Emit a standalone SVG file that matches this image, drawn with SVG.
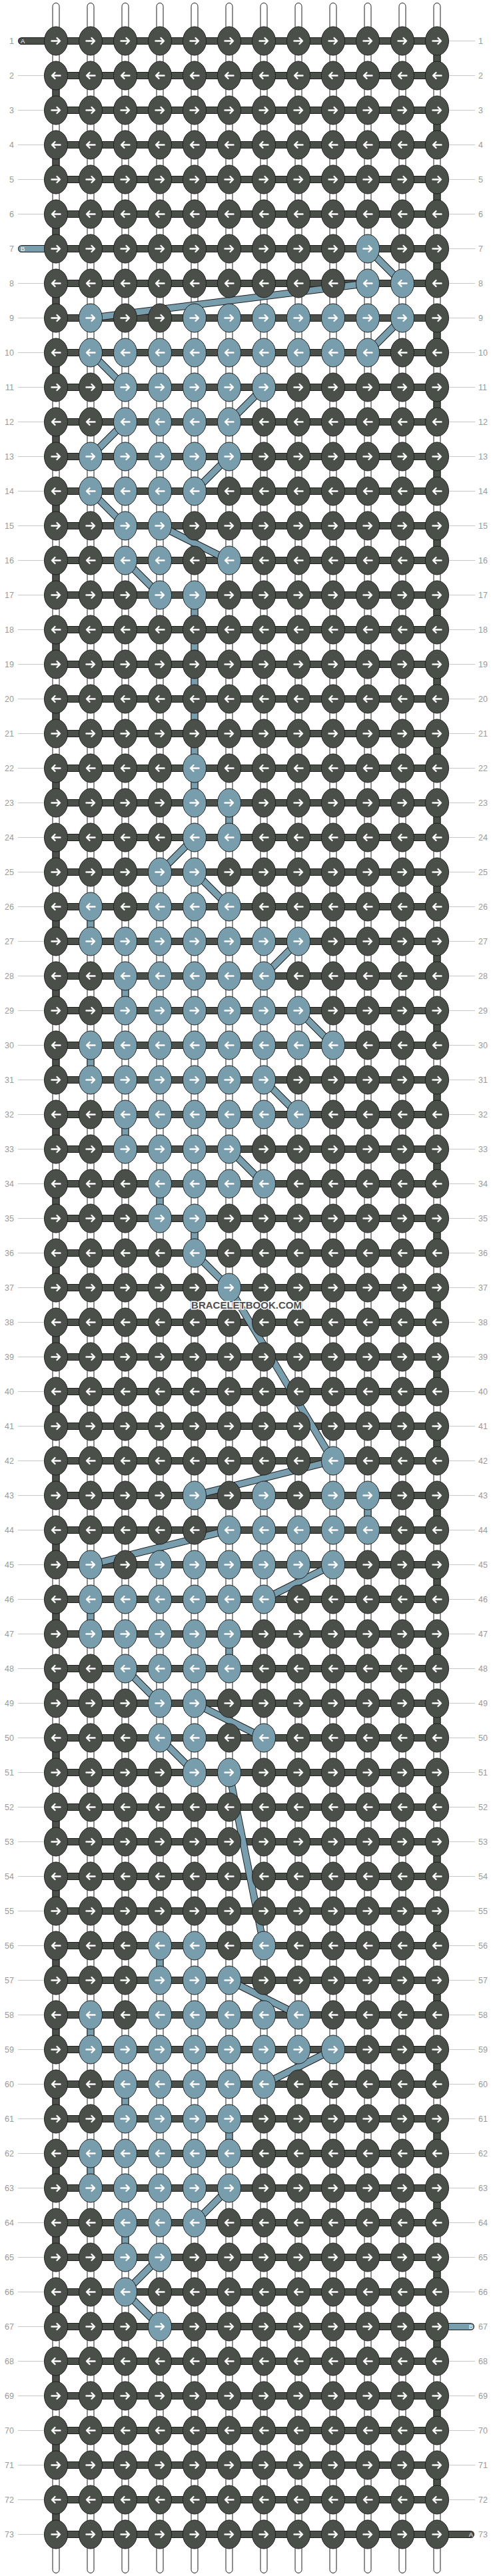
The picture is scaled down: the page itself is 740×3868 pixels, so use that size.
<svg xmlns="http://www.w3.org/2000/svg" width="740" height="3868" viewBox="0 0 740 3868">
<style>
.d{fill:#4b4f4a}.b{fill:#789eae}
.nl,.nr{font-family:"Liberation Sans",Arial,sans-serif;font-size:12.5px;fill:#9a9a9a}
.nl{text-anchor:end}
.tg{font-family:"Liberation Sans",Arial,sans-serif;font-size:9.5px;fill:#ffffff}
.wm{font-family:"Liberation Sans",Arial,sans-serif;font-weight:bold;font-size:15px;fill:#4e4e4e;stroke:#ffffff;stroke-width:3;paint-order:stroke;text-anchor:middle}
</style>
<defs>
<g id="R"><ellipse rx="17.5" ry="21.5" stroke="#1e1e1e" stroke-width="1"/><path d="M-6.5 0H5.5M1.5-4.5 6 0 1.5 4.5" fill="none" stroke="#ffffff" stroke-width="2.4" stroke-linecap="round" stroke-linejoin="round"/></g>
<g id="L"><ellipse rx="17.5" ry="21.5" stroke="#1e1e1e" stroke-width="1"/><path d="M6.5 0H-5.5M-1.5-4.5-6 0-1.5 4.5" fill="none" stroke="#ffffff" stroke-width="2.4" stroke-linecap="round" stroke-linejoin="round"/></g>
<path id="gL" d="M27 0H66.5" stroke="#c8c8c8" stroke-width="1"/>
<path id="gR" d="M673.5 0H713" stroke="#c8c8c8" stroke-width="1"/>
<path id="abars" fill="none" stroke-linecap="round" stroke-linejoin="round" d="M32.5 61.5H84M84 61.5h572
m-572 52h572m-572 52h572m-572 52h572m-572 52h572m-572 52h572m-572 52h572m-572 52h572m-572 52h572m-572 52h572
m-572 52h572m-572 52h572m-572 52h572m-572 52h572m-572 52h572m-572 52h572m-572 52h572m-572 52h572m-572 52h572
m-572 52h572m-572 52h572m-572 52h572m-572 52h572m-572 52h572m-572 52h572m-572 52h572m-572 52h572m-572 52h572
m-572 52h572m-572 52h572m-572 52h572m-572 52h572m-572 52h572m-572 52h572m-572 52h572m-572 52h572m-572 52h572
m-572 52h572m-572 52h572m-572 52h572m-572 52h572m-572 52h572m-572 52h572m-572 52h572m-572 52h572m-572 52h572
m-572 52h572m-572 52h572m-572 52h572m-572 52h572m-572 52h572m-572 52h572m-572 52h572m-572 52h572m-572 52h572
m-572 52h572m-572 52h572m-572 52h572m-572 52h572m-572 52h572m-572 52h572m-572 52h572m-572 52h572m-572 52h572
m-572 52h572m-572 52h572m-572 52h572m-572 52h572m-572 52h572m-572 52h572m-572 52h572m-572 52h572m-572 52h572
M656 3805.5H706.5M656 61.5v52
m-572 0v52m572 0v52m-572 0v52m572 0v52m-572 0v52m572 0v52m-572 0v52m572 0v52m-572 0v52m572 0v52
m-572 0v52m572 0v52m-572 0v52m572 0v52m-572 0v52m572 0v52m-572 0v52m572 0v52m-572 0v52m572 0v52
m-572 0v52m572 0v52m-572 0v52m572 0v52m-572 0v52m572 0v52m-572 0v52m572 0v52m-572 0v52m572 0v52
m-572 0v52m572 0v52m-572 0v52m572 0v52m-572 0v52m572 0v52m-572 0v52m572 0v52m-572 0v52m572 0v52
m-572 0v52m572 0v52m-572 0v52m572 0v52m-572 0v52m572 0v52m-572 0v52m572 0v52m-572 0v52m572 0v52
m-572 0v52m572 0v52m-572 0v52m572 0v52m-572 0v52m572 0v52m-572 0v52m572 0v52m-572 0v52m572 0v52
m-572 0v52m572 0v52m-572 0v52m572 0v52m-572 0v52m572 0v52m-572 0v52m572 0v52m-572 0v52m572 0v52
m-572 0v52"/>
<path id="bpath" fill="none" stroke-linecap="round" stroke-linejoin="round" d="M32.5 373.5H84M656 3493.5H706.5M552 373.5L604 425.5M552 425.5L136 477.5M604 477.5L552 529.5M136 529.5L188 581.5M396 581.5L344 633.5M188 633.5L136 685.5M344 685.5L292 737.5M136 737.5L188 789.5M240 789.5L344 841.5M188 841.5L240 893.5M292 893.5V1205.5M344 1205.5V1257.5M292 1257.5L240 1309.5M292 1309.5L344 1361.5M136 1361.5V1413.5M448 1413.5L396 1465.5M188 1465.5V1517.5M448 1517.5L500 1569.5M136 1569.5V1621.5M396 1621.5L448 1673.5M188 1673.5V1725.5M344 1725.5L396 1777.5M240 1777.5V1829.5M292 1829.5V1881.5L344 1933.5L500 2193.5L292 2245.5M552 2245.5V2297.5M344 2297.5L136 2349.5M500 2349.5L396 2401.5M136 2401.5V2453.5M344 2453.5V2505.5M188 2505.5L240 2557.5M292 2557.5L396 2609.5M240 2609.5L292 2661.5M344 2661.5L396 2921.5M240 2921.5V2973.5M344 2973.5L448 3025.5M136 3025.5V3077.5M500 3077.5L396 3129.5M188 3129.5V3181.5M344 3181.5V3233.5M136 3233.5V3285.5M344 3285.5L292 3337.5M188 3337.5V3389.5M240 3389.5L188 3441.5L240 3493.5"/>
</defs>
<rect width="740" height="3868" fill="#ffffff"/>
<g id="strands" fill="#ffffff" stroke="#1e1e1e" stroke-width="1">
<rect x="79" y="4.5" width="10" height="3859" rx="5"/><rect x="131" y="4.5" width="10" height="3859" rx="5"/><rect x="183" y="4.5" width="10" height="3859" rx="5"/><rect x="235" y="4.5" width="10" height="3859" rx="5"/><rect x="287" y="4.5" width="10" height="3859" rx="5"/><rect x="339" y="4.5" width="10" height="3859" rx="5"/><rect x="391" y="4.5" width="10" height="3859" rx="5"/><rect x="443" y="4.5" width="10" height="3859" rx="5"/><rect x="495" y="4.5" width="10" height="3859" rx="5"/><rect x="547" y="4.5" width="10" height="3859" rx="5"/><rect x="599" y="4.5" width="10" height="3859" rx="5"/><rect x="651" y="4.5" width="10" height="3859" rx="5"/>
</g>
<g id="connectors">
<use href="#abars" stroke="#1e1e1e" stroke-width="11"/>
<use href="#abars" stroke="#4b4f4a" stroke-width="9"/>
<use href="#bpath" stroke="#1e1e1e" stroke-width="11"/>
<use href="#bpath" stroke="#789eae" stroke-width="9"/>
</g>
<g id="knots">
<g id="row1" transform="translate(0,61.5)"><text class="nl" x="21" y="4.5">1</text><text class="nr" x="718" y="4.5">1</text><use href="#gR"/><text class="tg" x="31" y="3.5">A</text><g id="k1_1" class="d"><use href="#R" x="84"/></g><g id="k1_2" class="d"><use href="#R" x="136"/></g><g id="k1_3" class="d"><use href="#R" x="188"/></g><g id="k1_4" class="d"><use href="#R" x="240"/></g><g id="k1_5" class="d"><use href="#R" x="292"/></g><g id="k1_6" class="d"><use href="#R" x="344"/></g><g id="k1_7" class="d"><use href="#R" x="396"/></g><g id="k1_8" class="d"><use href="#R" x="448"/></g><g id="k1_9" class="d"><use href="#R" x="500"/></g><g id="k1_10" class="d"><use href="#R" x="552"/></g><g id="k1_11" class="d"><use href="#R" x="604"/></g><g id="k1_12" class="d"><use href="#R" x="656"/></g></g>
<g id="row2" transform="translate(0,113.5)"><text class="nl" x="21" y="4.5">2</text><text class="nr" x="718" y="4.5">2</text><use href="#gL"/><use href="#gR"/><g id="k2_1" class="d"><use href="#L" x="84"/></g><g id="k2_2" class="d"><use href="#L" x="136"/></g><g id="k2_3" class="d"><use href="#L" x="188"/></g><g id="k2_4" class="d"><use href="#L" x="240"/></g><g id="k2_5" class="d"><use href="#L" x="292"/></g><g id="k2_6" class="d"><use href="#L" x="344"/></g><g id="k2_7" class="d"><use href="#L" x="396"/></g><g id="k2_8" class="d"><use href="#L" x="448"/></g><g id="k2_9" class="d"><use href="#L" x="500"/></g><g id="k2_10" class="d"><use href="#L" x="552"/></g><g id="k2_11" class="d"><use href="#L" x="604"/></g><g id="k2_12" class="d"><use href="#L" x="656"/></g></g>
<g id="row3" transform="translate(0,165.5)"><text class="nl" x="21" y="4.5">3</text><text class="nr" x="718" y="4.5">3</text><use href="#gL"/><use href="#gR"/><g id="k3_1" class="d"><use href="#R" x="84"/></g><g id="k3_2" class="d"><use href="#R" x="136"/></g><g id="k3_3" class="d"><use href="#R" x="188"/></g><g id="k3_4" class="d"><use href="#R" x="240"/></g><g id="k3_5" class="d"><use href="#R" x="292"/></g><g id="k3_6" class="d"><use href="#R" x="344"/></g><g id="k3_7" class="d"><use href="#R" x="396"/></g><g id="k3_8" class="d"><use href="#R" x="448"/></g><g id="k3_9" class="d"><use href="#R" x="500"/></g><g id="k3_10" class="d"><use href="#R" x="552"/></g><g id="k3_11" class="d"><use href="#R" x="604"/></g><g id="k3_12" class="d"><use href="#R" x="656"/></g></g>
<g id="row4" transform="translate(0,217.5)"><text class="nl" x="21" y="4.5">4</text><text class="nr" x="718" y="4.5">4</text><use href="#gL"/><use href="#gR"/><g id="k4_1" class="d"><use href="#L" x="84"/></g><g id="k4_2" class="d"><use href="#L" x="136"/></g><g id="k4_3" class="d"><use href="#L" x="188"/></g><g id="k4_4" class="d"><use href="#L" x="240"/></g><g id="k4_5" class="d"><use href="#L" x="292"/></g><g id="k4_6" class="d"><use href="#L" x="344"/></g><g id="k4_7" class="d"><use href="#L" x="396"/></g><g id="k4_8" class="d"><use href="#L" x="448"/></g><g id="k4_9" class="d"><use href="#L" x="500"/></g><g id="k4_10" class="d"><use href="#L" x="552"/></g><g id="k4_11" class="d"><use href="#L" x="604"/></g><g id="k4_12" class="d"><use href="#L" x="656"/></g></g>
<g id="row5" transform="translate(0,269.5)"><text class="nl" x="21" y="4.5">5</text><text class="nr" x="718" y="4.5">5</text><use href="#gL"/><use href="#gR"/><g id="k5_1" class="d"><use href="#R" x="84"/></g><g id="k5_2" class="d"><use href="#R" x="136"/></g><g id="k5_3" class="d"><use href="#R" x="188"/></g><g id="k5_4" class="d"><use href="#R" x="240"/></g><g id="k5_5" class="d"><use href="#R" x="292"/></g><g id="k5_6" class="d"><use href="#R" x="344"/></g><g id="k5_7" class="d"><use href="#R" x="396"/></g><g id="k5_8" class="d"><use href="#R" x="448"/></g><g id="k5_9" class="d"><use href="#R" x="500"/></g><g id="k5_10" class="d"><use href="#R" x="552"/></g><g id="k5_11" class="d"><use href="#R" x="604"/></g><g id="k5_12" class="d"><use href="#R" x="656"/></g></g>
<g id="row6" transform="translate(0,321.5)"><text class="nl" x="21" y="4.5">6</text><text class="nr" x="718" y="4.5">6</text><use href="#gL"/><use href="#gR"/><g id="k6_1" class="d"><use href="#L" x="84"/></g><g id="k6_2" class="d"><use href="#L" x="136"/></g><g id="k6_3" class="d"><use href="#L" x="188"/></g><g id="k6_4" class="d"><use href="#L" x="240"/></g><g id="k6_5" class="d"><use href="#L" x="292"/></g><g id="k6_6" class="d"><use href="#L" x="344"/></g><g id="k6_7" class="d"><use href="#L" x="396"/></g><g id="k6_8" class="d"><use href="#L" x="448"/></g><g id="k6_9" class="d"><use href="#L" x="500"/></g><g id="k6_10" class="d"><use href="#L" x="552"/></g><g id="k6_11" class="d"><use href="#L" x="604"/></g><g id="k6_12" class="d"><use href="#L" x="656"/></g></g>
<g id="row7" transform="translate(0,373.5)"><text class="nl" x="21" y="4.5">7</text><text class="nr" x="718" y="4.5">7</text><use href="#gR"/><text class="tg" x="31" y="3.5">B</text><g id="k7_1" class="d"><use href="#R" x="84"/></g><g id="k7_2" class="d"><use href="#R" x="136"/></g><g id="k7_3" class="d"><use href="#R" x="188"/></g><g id="k7_4" class="d"><use href="#R" x="240"/></g><g id="k7_5" class="d"><use href="#R" x="292"/></g><g id="k7_6" class="d"><use href="#R" x="344"/></g><g id="k7_7" class="d"><use href="#R" x="396"/></g><g id="k7_8" class="d"><use href="#R" x="448"/></g><g id="k7_9" class="d"><use href="#R" x="500"/></g><g id="k7_10" class="b"><use href="#R" x="552"/></g><g id="k7_11" class="d"><use href="#R" x="604"/></g><g id="k7_12" class="d"><use href="#R" x="656"/></g></g>
<g id="row8" transform="translate(0,425.5)"><text class="nl" x="21" y="4.5">8</text><text class="nr" x="718" y="4.5">8</text><use href="#gL"/><use href="#gR"/><g id="k8_1" class="d"><use href="#L" x="84"/></g><g id="k8_2" class="d"><use href="#L" x="136"/></g><g id="k8_3" class="d"><use href="#L" x="188"/></g><g id="k8_4" class="d"><use href="#L" x="240"/></g><g id="k8_5" class="d"><use href="#L" x="292"/></g><g id="k8_6" class="d"><use href="#L" x="344"/></g><g id="k8_7" class="d"><use href="#L" x="396"/></g><g id="k8_8" class="d"><use href="#L" x="448"/></g><g id="k8_9" class="d"><use href="#L" x="500"/></g><g id="k8_10" class="b"><use href="#L" x="552"/></g><g id="k8_11" class="b"><use href="#L" x="604"/></g><g id="k8_12" class="d"><use href="#L" x="656"/></g></g>
<g id="row9" transform="translate(0,477.5)"><text class="nl" x="21" y="4.5">9</text><text class="nr" x="718" y="4.5">9</text><use href="#gL"/><use href="#gR"/><g id="k9_1" class="d"><use href="#R" x="84"/></g><g id="k9_2" class="b"><use href="#R" x="136"/></g><g id="k9_3" class="d"><use href="#R" x="188"/></g><g id="k9_4" class="d"><use href="#R" x="240"/></g><g id="k9_5" class="b"><use href="#R" x="292"/></g><g id="k9_6" class="b"><use href="#R" x="344"/></g><g id="k9_7" class="b"><use href="#R" x="396"/></g><g id="k9_8" class="b"><use href="#R" x="448"/></g><g id="k9_9" class="b"><use href="#R" x="500"/></g><g id="k9_10" class="b"><use href="#R" x="552"/></g><g id="k9_11" class="b"><use href="#R" x="604"/></g><g id="k9_12" class="d"><use href="#R" x="656"/></g></g>
<g id="row10" transform="translate(0,529.5)"><text class="nl" x="21" y="4.5">10</text><text class="nr" x="718" y="4.5">10</text><use href="#gL"/><use href="#gR"/><g id="k10_1" class="d"><use href="#L" x="84"/></g><g id="k10_2" class="b"><use href="#L" x="136"/></g><g id="k10_3" class="b"><use href="#L" x="188"/></g><g id="k10_4" class="b"><use href="#L" x="240"/></g><g id="k10_5" class="b"><use href="#L" x="292"/></g><g id="k10_6" class="b"><use href="#L" x="344"/></g><g id="k10_7" class="b"><use href="#L" x="396"/></g><g id="k10_8" class="b"><use href="#L" x="448"/></g><g id="k10_9" class="b"><use href="#L" x="500"/></g><g id="k10_10" class="b"><use href="#L" x="552"/></g><g id="k10_11" class="d"><use href="#L" x="604"/></g><g id="k10_12" class="d"><use href="#L" x="656"/></g></g>
<g id="row11" transform="translate(0,581.5)"><text class="nl" x="21" y="4.5">11</text><text class="nr" x="718" y="4.5">11</text><use href="#gL"/><use href="#gR"/><g id="k11_1" class="d"><use href="#R" x="84"/></g><g id="k11_2" class="d"><use href="#R" x="136"/></g><g id="k11_3" class="b"><use href="#R" x="188"/></g><g id="k11_4" class="b"><use href="#R" x="240"/></g><g id="k11_5" class="b"><use href="#R" x="292"/></g><g id="k11_6" class="b"><use href="#R" x="344"/></g><g id="k11_7" class="b"><use href="#R" x="396"/></g><g id="k11_8" class="d"><use href="#R" x="448"/></g><g id="k11_9" class="d"><use href="#R" x="500"/></g><g id="k11_10" class="d"><use href="#R" x="552"/></g><g id="k11_11" class="d"><use href="#R" x="604"/></g><g id="k11_12" class="d"><use href="#R" x="656"/></g></g>
<g id="row12" transform="translate(0,633.5)"><text class="nl" x="21" y="4.5">12</text><text class="nr" x="718" y="4.5">12</text><use href="#gL"/><use href="#gR"/><g id="k12_1" class="d"><use href="#L" x="84"/></g><g id="k12_2" class="d"><use href="#L" x="136"/></g><g id="k12_3" class="b"><use href="#L" x="188"/></g><g id="k12_4" class="b"><use href="#L" x="240"/></g><g id="k12_5" class="b"><use href="#L" x="292"/></g><g id="k12_6" class="b"><use href="#L" x="344"/></g><g id="k12_7" class="d"><use href="#L" x="396"/></g><g id="k12_8" class="d"><use href="#L" x="448"/></g><g id="k12_9" class="d"><use href="#L" x="500"/></g><g id="k12_10" class="d"><use href="#L" x="552"/></g><g id="k12_11" class="d"><use href="#L" x="604"/></g><g id="k12_12" class="d"><use href="#L" x="656"/></g></g>
<g id="row13" transform="translate(0,685.5)"><text class="nl" x="21" y="4.5">13</text><text class="nr" x="718" y="4.5">13</text><use href="#gL"/><use href="#gR"/><g id="k13_1" class="d"><use href="#R" x="84"/></g><g id="k13_2" class="b"><use href="#R" x="136"/></g><g id="k13_3" class="b"><use href="#R" x="188"/></g><g id="k13_4" class="b"><use href="#R" x="240"/></g><g id="k13_5" class="b"><use href="#R" x="292"/></g><g id="k13_6" class="b"><use href="#R" x="344"/></g><g id="k13_7" class="d"><use href="#R" x="396"/></g><g id="k13_8" class="d"><use href="#R" x="448"/></g><g id="k13_9" class="d"><use href="#R" x="500"/></g><g id="k13_10" class="d"><use href="#R" x="552"/></g><g id="k13_11" class="d"><use href="#R" x="604"/></g><g id="k13_12" class="d"><use href="#R" x="656"/></g></g>
<g id="row14" transform="translate(0,737.5)"><text class="nl" x="21" y="4.5">14</text><text class="nr" x="718" y="4.5">14</text><use href="#gL"/><use href="#gR"/><g id="k14_1" class="d"><use href="#L" x="84"/></g><g id="k14_2" class="b"><use href="#L" x="136"/></g><g id="k14_3" class="b"><use href="#L" x="188"/></g><g id="k14_4" class="b"><use href="#L" x="240"/></g><g id="k14_5" class="b"><use href="#L" x="292"/></g><g id="k14_6" class="d"><use href="#L" x="344"/></g><g id="k14_7" class="d"><use href="#L" x="396"/></g><g id="k14_8" class="d"><use href="#L" x="448"/></g><g id="k14_9" class="d"><use href="#L" x="500"/></g><g id="k14_10" class="d"><use href="#L" x="552"/></g><g id="k14_11" class="d"><use href="#L" x="604"/></g><g id="k14_12" class="d"><use href="#L" x="656"/></g></g>
<g id="row15" transform="translate(0,789.5)"><text class="nl" x="21" y="4.5">15</text><text class="nr" x="718" y="4.5">15</text><use href="#gL"/><use href="#gR"/><g id="k15_1" class="d"><use href="#R" x="84"/></g><g id="k15_2" class="d"><use href="#R" x="136"/></g><g id="k15_3" class="b"><use href="#R" x="188"/></g><g id="k15_4" class="b"><use href="#R" x="240"/></g><g id="k15_5" class="d"><use href="#R" x="292"/></g><g id="k15_6" class="d"><use href="#R" x="344"/></g><g id="k15_7" class="d"><use href="#R" x="396"/></g><g id="k15_8" class="d"><use href="#R" x="448"/></g><g id="k15_9" class="d"><use href="#R" x="500"/></g><g id="k15_10" class="d"><use href="#R" x="552"/></g><g id="k15_11" class="d"><use href="#R" x="604"/></g><g id="k15_12" class="d"><use href="#R" x="656"/></g></g>
<g id="row16" transform="translate(0,841.5)"><text class="nl" x="21" y="4.5">16</text><text class="nr" x="718" y="4.5">16</text><use href="#gL"/><use href="#gR"/><g id="k16_1" class="d"><use href="#L" x="84"/></g><g id="k16_2" class="d"><use href="#L" x="136"/></g><g id="k16_3" class="b"><use href="#L" x="188"/></g><g id="k16_4" class="b"><use href="#L" x="240"/></g><g id="k16_5" class="d"><use href="#L" x="292"/></g><g id="k16_6" class="b"><use href="#L" x="344"/></g><g id="k16_7" class="d"><use href="#L" x="396"/></g><g id="k16_8" class="d"><use href="#L" x="448"/></g><g id="k16_9" class="d"><use href="#L" x="500"/></g><g id="k16_10" class="d"><use href="#L" x="552"/></g><g id="k16_11" class="d"><use href="#L" x="604"/></g><g id="k16_12" class="d"><use href="#L" x="656"/></g></g>
<g id="row17" transform="translate(0,893.5)"><text class="nl" x="21" y="4.5">17</text><text class="nr" x="718" y="4.5">17</text><use href="#gL"/><use href="#gR"/><g id="k17_1" class="d"><use href="#R" x="84"/></g><g id="k17_2" class="d"><use href="#R" x="136"/></g><g id="k17_3" class="d"><use href="#R" x="188"/></g><g id="k17_4" class="b"><use href="#R" x="240"/></g><g id="k17_5" class="b"><use href="#R" x="292"/></g><g id="k17_6" class="d"><use href="#R" x="344"/></g><g id="k17_7" class="d"><use href="#R" x="396"/></g><g id="k17_8" class="d"><use href="#R" x="448"/></g><g id="k17_9" class="d"><use href="#R" x="500"/></g><g id="k17_10" class="d"><use href="#R" x="552"/></g><g id="k17_11" class="d"><use href="#R" x="604"/></g><g id="k17_12" class="d"><use href="#R" x="656"/></g></g>
<g id="row18" transform="translate(0,945.5)"><text class="nl" x="21" y="4.5">18</text><text class="nr" x="718" y="4.5">18</text><use href="#gL"/><use href="#gR"/><g id="k18_1" class="d"><use href="#L" x="84"/></g><g id="k18_2" class="d"><use href="#L" x="136"/></g><g id="k18_3" class="d"><use href="#L" x="188"/></g><g id="k18_4" class="d"><use href="#L" x="240"/></g><g id="k18_5" class="d"><use href="#L" x="292"/></g><g id="k18_6" class="d"><use href="#L" x="344"/></g><g id="k18_7" class="d"><use href="#L" x="396"/></g><g id="k18_8" class="d"><use href="#L" x="448"/></g><g id="k18_9" class="d"><use href="#L" x="500"/></g><g id="k18_10" class="d"><use href="#L" x="552"/></g><g id="k18_11" class="d"><use href="#L" x="604"/></g><g id="k18_12" class="d"><use href="#L" x="656"/></g></g>
<g id="row19" transform="translate(0,997.5)"><text class="nl" x="21" y="4.5">19</text><text class="nr" x="718" y="4.5">19</text><use href="#gL"/><use href="#gR"/><g id="k19_1" class="d"><use href="#R" x="84"/></g><g id="k19_2" class="d"><use href="#R" x="136"/></g><g id="k19_3" class="d"><use href="#R" x="188"/></g><g id="k19_4" class="d"><use href="#R" x="240"/></g><g id="k19_5" class="d"><use href="#R" x="292"/></g><g id="k19_6" class="d"><use href="#R" x="344"/></g><g id="k19_7" class="d"><use href="#R" x="396"/></g><g id="k19_8" class="d"><use href="#R" x="448"/></g><g id="k19_9" class="d"><use href="#R" x="500"/></g><g id="k19_10" class="d"><use href="#R" x="552"/></g><g id="k19_11" class="d"><use href="#R" x="604"/></g><g id="k19_12" class="d"><use href="#R" x="656"/></g></g>
<g id="row20" transform="translate(0,1049.5)"><text class="nl" x="21" y="4.5">20</text><text class="nr" x="718" y="4.5">20</text><use href="#gL"/><use href="#gR"/><g id="k20_1" class="d"><use href="#L" x="84"/></g><g id="k20_2" class="d"><use href="#L" x="136"/></g><g id="k20_3" class="d"><use href="#L" x="188"/></g><g id="k20_4" class="d"><use href="#L" x="240"/></g><g id="k20_5" class="d"><use href="#L" x="292"/></g><g id="k20_6" class="d"><use href="#L" x="344"/></g><g id="k20_7" class="d"><use href="#L" x="396"/></g><g id="k20_8" class="d"><use href="#L" x="448"/></g><g id="k20_9" class="d"><use href="#L" x="500"/></g><g id="k20_10" class="d"><use href="#L" x="552"/></g><g id="k20_11" class="d"><use href="#L" x="604"/></g><g id="k20_12" class="d"><use href="#L" x="656"/></g></g>
<g id="row21" transform="translate(0,1101.5)"><text class="nl" x="21" y="4.5">21</text><text class="nr" x="718" y="4.5">21</text><use href="#gL"/><use href="#gR"/><g id="k21_1" class="d"><use href="#R" x="84"/></g><g id="k21_2" class="d"><use href="#R" x="136"/></g><g id="k21_3" class="d"><use href="#R" x="188"/></g><g id="k21_4" class="d"><use href="#R" x="240"/></g><g id="k21_5" class="d"><use href="#R" x="292"/></g><g id="k21_6" class="d"><use href="#R" x="344"/></g><g id="k21_7" class="d"><use href="#R" x="396"/></g><g id="k21_8" class="d"><use href="#R" x="448"/></g><g id="k21_9" class="d"><use href="#R" x="500"/></g><g id="k21_10" class="d"><use href="#R" x="552"/></g><g id="k21_11" class="d"><use href="#R" x="604"/></g><g id="k21_12" class="d"><use href="#R" x="656"/></g></g>
<g id="row22" transform="translate(0,1153.5)"><text class="nl" x="21" y="4.5">22</text><text class="nr" x="718" y="4.5">22</text><use href="#gL"/><use href="#gR"/><g id="k22_1" class="d"><use href="#L" x="84"/></g><g id="k22_2" class="d"><use href="#L" x="136"/></g><g id="k22_3" class="d"><use href="#L" x="188"/></g><g id="k22_4" class="d"><use href="#L" x="240"/></g><g id="k22_5" class="b"><use href="#L" x="292"/></g><g id="k22_6" class="d"><use href="#L" x="344"/></g><g id="k22_7" class="d"><use href="#L" x="396"/></g><g id="k22_8" class="d"><use href="#L" x="448"/></g><g id="k22_9" class="d"><use href="#L" x="500"/></g><g id="k22_10" class="d"><use href="#L" x="552"/></g><g id="k22_11" class="d"><use href="#L" x="604"/></g><g id="k22_12" class="d"><use href="#L" x="656"/></g></g>
<g id="row23" transform="translate(0,1205.5)"><text class="nl" x="21" y="4.5">23</text><text class="nr" x="718" y="4.5">23</text><use href="#gL"/><use href="#gR"/><g id="k23_1" class="d"><use href="#R" x="84"/></g><g id="k23_2" class="d"><use href="#R" x="136"/></g><g id="k23_3" class="d"><use href="#R" x="188"/></g><g id="k23_4" class="d"><use href="#R" x="240"/></g><g id="k23_5" class="b"><use href="#R" x="292"/></g><g id="k23_6" class="b"><use href="#R" x="344"/></g><g id="k23_7" class="d"><use href="#R" x="396"/></g><g id="k23_8" class="d"><use href="#R" x="448"/></g><g id="k23_9" class="d"><use href="#R" x="500"/></g><g id="k23_10" class="d"><use href="#R" x="552"/></g><g id="k23_11" class="d"><use href="#R" x="604"/></g><g id="k23_12" class="d"><use href="#R" x="656"/></g></g>
<g id="row24" transform="translate(0,1257.5)"><text class="nl" x="21" y="4.5">24</text><text class="nr" x="718" y="4.5">24</text><use href="#gL"/><use href="#gR"/><g id="k24_1" class="d"><use href="#L" x="84"/></g><g id="k24_2" class="d"><use href="#L" x="136"/></g><g id="k24_3" class="d"><use href="#L" x="188"/></g><g id="k24_4" class="d"><use href="#L" x="240"/></g><g id="k24_5" class="b"><use href="#L" x="292"/></g><g id="k24_6" class="b"><use href="#L" x="344"/></g><g id="k24_7" class="d"><use href="#L" x="396"/></g><g id="k24_8" class="d"><use href="#L" x="448"/></g><g id="k24_9" class="d"><use href="#L" x="500"/></g><g id="k24_10" class="d"><use href="#L" x="552"/></g><g id="k24_11" class="d"><use href="#L" x="604"/></g><g id="k24_12" class="d"><use href="#L" x="656"/></g></g>
<g id="row25" transform="translate(0,1309.5)"><text class="nl" x="21" y="4.5">25</text><text class="nr" x="718" y="4.5">25</text><use href="#gL"/><use href="#gR"/><g id="k25_1" class="d"><use href="#R" x="84"/></g><g id="k25_2" class="d"><use href="#R" x="136"/></g><g id="k25_3" class="d"><use href="#R" x="188"/></g><g id="k25_4" class="b"><use href="#R" x="240"/></g><g id="k25_5" class="b"><use href="#R" x="292"/></g><g id="k25_6" class="d"><use href="#R" x="344"/></g><g id="k25_7" class="d"><use href="#R" x="396"/></g><g id="k25_8" class="d"><use href="#R" x="448"/></g><g id="k25_9" class="d"><use href="#R" x="500"/></g><g id="k25_10" class="d"><use href="#R" x="552"/></g><g id="k25_11" class="d"><use href="#R" x="604"/></g><g id="k25_12" class="d"><use href="#R" x="656"/></g></g>
<g id="row26" transform="translate(0,1361.5)"><text class="nl" x="21" y="4.5">26</text><text class="nr" x="718" y="4.5">26</text><use href="#gL"/><use href="#gR"/><g id="k26_1" class="d"><use href="#L" x="84"/></g><g id="k26_2" class="b"><use href="#L" x="136"/></g><g id="k26_3" class="d"><use href="#L" x="188"/></g><g id="k26_4" class="b"><use href="#L" x="240"/></g><g id="k26_5" class="b"><use href="#L" x="292"/></g><g id="k26_6" class="b"><use href="#L" x="344"/></g><g id="k26_7" class="d"><use href="#L" x="396"/></g><g id="k26_8" class="d"><use href="#L" x="448"/></g><g id="k26_9" class="d"><use href="#L" x="500"/></g><g id="k26_10" class="d"><use href="#L" x="552"/></g><g id="k26_11" class="d"><use href="#L" x="604"/></g><g id="k26_12" class="d"><use href="#L" x="656"/></g></g>
<g id="row27" transform="translate(0,1413.5)"><text class="nl" x="21" y="4.5">27</text><text class="nr" x="718" y="4.5">27</text><use href="#gL"/><use href="#gR"/><g id="k27_1" class="d"><use href="#R" x="84"/></g><g id="k27_2" class="b"><use href="#R" x="136"/></g><g id="k27_3" class="b"><use href="#R" x="188"/></g><g id="k27_4" class="b"><use href="#R" x="240"/></g><g id="k27_5" class="b"><use href="#R" x="292"/></g><g id="k27_6" class="b"><use href="#R" x="344"/></g><g id="k27_7" class="b"><use href="#R" x="396"/></g><g id="k27_8" class="b"><use href="#R" x="448"/></g><g id="k27_9" class="d"><use href="#R" x="500"/></g><g id="k27_10" class="d"><use href="#R" x="552"/></g><g id="k27_11" class="d"><use href="#R" x="604"/></g><g id="k27_12" class="d"><use href="#R" x="656"/></g></g>
<g id="row28" transform="translate(0,1465.5)"><text class="nl" x="21" y="4.5">28</text><text class="nr" x="718" y="4.5">28</text><use href="#gL"/><use href="#gR"/><g id="k28_1" class="d"><use href="#L" x="84"/></g><g id="k28_2" class="d"><use href="#L" x="136"/></g><g id="k28_3" class="b"><use href="#L" x="188"/></g><g id="k28_4" class="b"><use href="#L" x="240"/></g><g id="k28_5" class="b"><use href="#L" x="292"/></g><g id="k28_6" class="b"><use href="#L" x="344"/></g><g id="k28_7" class="b"><use href="#L" x="396"/></g><g id="k28_8" class="d"><use href="#L" x="448"/></g><g id="k28_9" class="d"><use href="#L" x="500"/></g><g id="k28_10" class="d"><use href="#L" x="552"/></g><g id="k28_11" class="d"><use href="#L" x="604"/></g><g id="k28_12" class="d"><use href="#L" x="656"/></g></g>
<g id="row29" transform="translate(0,1517.5)"><text class="nl" x="21" y="4.5">29</text><text class="nr" x="718" y="4.5">29</text><use href="#gL"/><use href="#gR"/><g id="k29_1" class="d"><use href="#R" x="84"/></g><g id="k29_2" class="d"><use href="#R" x="136"/></g><g id="k29_3" class="b"><use href="#R" x="188"/></g><g id="k29_4" class="b"><use href="#R" x="240"/></g><g id="k29_5" class="b"><use href="#R" x="292"/></g><g id="k29_6" class="b"><use href="#R" x="344"/></g><g id="k29_7" class="b"><use href="#R" x="396"/></g><g id="k29_8" class="b"><use href="#R" x="448"/></g><g id="k29_9" class="d"><use href="#R" x="500"/></g><g id="k29_10" class="d"><use href="#R" x="552"/></g><g id="k29_11" class="d"><use href="#R" x="604"/></g><g id="k29_12" class="d"><use href="#R" x="656"/></g></g>
<g id="row30" transform="translate(0,1569.5)"><text class="nl" x="21" y="4.5">30</text><text class="nr" x="718" y="4.5">30</text><use href="#gL"/><use href="#gR"/><g id="k30_1" class="d"><use href="#L" x="84"/></g><g id="k30_2" class="b"><use href="#L" x="136"/></g><g id="k30_3" class="b"><use href="#L" x="188"/></g><g id="k30_4" class="b"><use href="#L" x="240"/></g><g id="k30_5" class="b"><use href="#L" x="292"/></g><g id="k30_6" class="b"><use href="#L" x="344"/></g><g id="k30_7" class="b"><use href="#L" x="396"/></g><g id="k30_8" class="b"><use href="#L" x="448"/></g><g id="k30_9" class="b"><use href="#L" x="500"/></g><g id="k30_10" class="d"><use href="#L" x="552"/></g><g id="k30_11" class="d"><use href="#L" x="604"/></g><g id="k30_12" class="d"><use href="#L" x="656"/></g></g>
<g id="row31" transform="translate(0,1621.5)"><text class="nl" x="21" y="4.5">31</text><text class="nr" x="718" y="4.5">31</text><use href="#gL"/><use href="#gR"/><g id="k31_1" class="d"><use href="#R" x="84"/></g><g id="k31_2" class="b"><use href="#R" x="136"/></g><g id="k31_3" class="b"><use href="#R" x="188"/></g><g id="k31_4" class="b"><use href="#R" x="240"/></g><g id="k31_5" class="b"><use href="#R" x="292"/></g><g id="k31_6" class="b"><use href="#R" x="344"/></g><g id="k31_7" class="b"><use href="#R" x="396"/></g><g id="k31_8" class="d"><use href="#R" x="448"/></g><g id="k31_9" class="d"><use href="#R" x="500"/></g><g id="k31_10" class="d"><use href="#R" x="552"/></g><g id="k31_11" class="d"><use href="#R" x="604"/></g><g id="k31_12" class="d"><use href="#R" x="656"/></g></g>
<g id="row32" transform="translate(0,1673.5)"><text class="nl" x="21" y="4.5">32</text><text class="nr" x="718" y="4.5">32</text><use href="#gL"/><use href="#gR"/><g id="k32_1" class="d"><use href="#L" x="84"/></g><g id="k32_2" class="d"><use href="#L" x="136"/></g><g id="k32_3" class="b"><use href="#L" x="188"/></g><g id="k32_4" class="b"><use href="#L" x="240"/></g><g id="k32_5" class="b"><use href="#L" x="292"/></g><g id="k32_6" class="b"><use href="#L" x="344"/></g><g id="k32_7" class="b"><use href="#L" x="396"/></g><g id="k32_8" class="b"><use href="#L" x="448"/></g><g id="k32_9" class="d"><use href="#L" x="500"/></g><g id="k32_10" class="d"><use href="#L" x="552"/></g><g id="k32_11" class="d"><use href="#L" x="604"/></g><g id="k32_12" class="d"><use href="#L" x="656"/></g></g>
<g id="row33" transform="translate(0,1725.5)"><text class="nl" x="21" y="4.5">33</text><text class="nr" x="718" y="4.5">33</text><use href="#gL"/><use href="#gR"/><g id="k33_1" class="d"><use href="#R" x="84"/></g><g id="k33_2" class="d"><use href="#R" x="136"/></g><g id="k33_3" class="b"><use href="#R" x="188"/></g><g id="k33_4" class="b"><use href="#R" x="240"/></g><g id="k33_5" class="b"><use href="#R" x="292"/></g><g id="k33_6" class="b"><use href="#R" x="344"/></g><g id="k33_7" class="d"><use href="#R" x="396"/></g><g id="k33_8" class="d"><use href="#R" x="448"/></g><g id="k33_9" class="d"><use href="#R" x="500"/></g><g id="k33_10" class="d"><use href="#R" x="552"/></g><g id="k33_11" class="d"><use href="#R" x="604"/></g><g id="k33_12" class="d"><use href="#R" x="656"/></g></g>
<g id="row34" transform="translate(0,1777.5)"><text class="nl" x="21" y="4.5">34</text><text class="nr" x="718" y="4.5">34</text><use href="#gL"/><use href="#gR"/><g id="k34_1" class="d"><use href="#L" x="84"/></g><g id="k34_2" class="d"><use href="#L" x="136"/></g><g id="k34_3" class="d"><use href="#L" x="188"/></g><g id="k34_4" class="b"><use href="#L" x="240"/></g><g id="k34_5" class="b"><use href="#L" x="292"/></g><g id="k34_6" class="b"><use href="#L" x="344"/></g><g id="k34_7" class="b"><use href="#L" x="396"/></g><g id="k34_8" class="d"><use href="#L" x="448"/></g><g id="k34_9" class="d"><use href="#L" x="500"/></g><g id="k34_10" class="d"><use href="#L" x="552"/></g><g id="k34_11" class="d"><use href="#L" x="604"/></g><g id="k34_12" class="d"><use href="#L" x="656"/></g></g>
<g id="row35" transform="translate(0,1829.5)"><text class="nl" x="21" y="4.5">35</text><text class="nr" x="718" y="4.5">35</text><use href="#gL"/><use href="#gR"/><g id="k35_1" class="d"><use href="#R" x="84"/></g><g id="k35_2" class="d"><use href="#R" x="136"/></g><g id="k35_3" class="d"><use href="#R" x="188"/></g><g id="k35_4" class="b"><use href="#R" x="240"/></g><g id="k35_5" class="b"><use href="#R" x="292"/></g><g id="k35_6" class="d"><use href="#R" x="344"/></g><g id="k35_7" class="d"><use href="#R" x="396"/></g><g id="k35_8" class="d"><use href="#R" x="448"/></g><g id="k35_9" class="d"><use href="#R" x="500"/></g><g id="k35_10" class="d"><use href="#R" x="552"/></g><g id="k35_11" class="d"><use href="#R" x="604"/></g><g id="k35_12" class="d"><use href="#R" x="656"/></g></g>
<g id="row36" transform="translate(0,1881.5)"><text class="nl" x="21" y="4.5">36</text><text class="nr" x="718" y="4.5">36</text><use href="#gL"/><use href="#gR"/><g id="k36_1" class="d"><use href="#L" x="84"/></g><g id="k36_2" class="d"><use href="#L" x="136"/></g><g id="k36_3" class="d"><use href="#L" x="188"/></g><g id="k36_4" class="d"><use href="#L" x="240"/></g><g id="k36_5" class="b"><use href="#L" x="292"/></g><g id="k36_6" class="d"><use href="#L" x="344"/></g><g id="k36_7" class="d"><use href="#L" x="396"/></g><g id="k36_8" class="d"><use href="#L" x="448"/></g><g id="k36_9" class="d"><use href="#L" x="500"/></g><g id="k36_10" class="d"><use href="#L" x="552"/></g><g id="k36_11" class="d"><use href="#L" x="604"/></g><g id="k36_12" class="d"><use href="#L" x="656"/></g></g>
<g id="row37" transform="translate(0,1933.5)"><text class="nl" x="21" y="4.5">37</text><text class="nr" x="718" y="4.5">37</text><use href="#gL"/><use href="#gR"/><g id="k37_1" class="d"><use href="#R" x="84"/></g><g id="k37_2" class="d"><use href="#R" x="136"/></g><g id="k37_3" class="d"><use href="#R" x="188"/></g><g id="k37_4" class="d"><use href="#R" x="240"/></g><g id="k37_5" class="d"><use href="#R" x="292"/></g><g id="k37_6" class="b"><use href="#R" x="344"/></g><g id="k37_7" class="d"><use href="#R" x="396"/></g><g id="k37_8" class="d"><use href="#R" x="448"/></g><g id="k37_9" class="d"><use href="#R" x="500"/></g><g id="k37_10" class="d"><use href="#R" x="552"/></g><g id="k37_11" class="d"><use href="#R" x="604"/></g><g id="k37_12" class="d"><use href="#R" x="656"/></g></g>
<g id="row38" transform="translate(0,1985.5)"><text class="nl" x="21" y="4.5">38</text><text class="nr" x="718" y="4.5">38</text><use href="#gL"/><use href="#gR"/><g id="k38_1" class="d"><use href="#L" x="84"/></g><g id="k38_2" class="d"><use href="#L" x="136"/></g><g id="k38_3" class="d"><use href="#L" x="188"/></g><g id="k38_4" class="d"><use href="#L" x="240"/></g><g id="k38_5" class="d"><use href="#L" x="292"/></g><g id="k38_6" class="d"><use href="#L" x="344"/></g><g id="k38_7" class="d"><use href="#L" x="396"/></g><g id="k38_8" class="d"><use href="#L" x="448"/></g><g id="k38_9" class="d"><use href="#L" x="500"/></g><g id="k38_10" class="d"><use href="#L" x="552"/></g><g id="k38_11" class="d"><use href="#L" x="604"/></g><g id="k38_12" class="d"><use href="#L" x="656"/></g></g>
<g id="row39" transform="translate(0,2037.5)"><text class="nl" x="21" y="4.5">39</text><text class="nr" x="718" y="4.5">39</text><use href="#gL"/><use href="#gR"/><g id="k39_1" class="d"><use href="#R" x="84"/></g><g id="k39_2" class="d"><use href="#R" x="136"/></g><g id="k39_3" class="d"><use href="#R" x="188"/></g><g id="k39_4" class="d"><use href="#R" x="240"/></g><g id="k39_5" class="d"><use href="#R" x="292"/></g><g id="k39_6" class="d"><use href="#R" x="344"/></g><g id="k39_7" class="d"><use href="#R" x="396"/></g><g id="k39_8" class="d"><use href="#R" x="448"/></g><g id="k39_9" class="d"><use href="#R" x="500"/></g><g id="k39_10" class="d"><use href="#R" x="552"/></g><g id="k39_11" class="d"><use href="#R" x="604"/></g><g id="k39_12" class="d"><use href="#R" x="656"/></g></g>
<g id="row40" transform="translate(0,2089.5)"><text class="nl" x="21" y="4.5">40</text><text class="nr" x="718" y="4.5">40</text><use href="#gL"/><use href="#gR"/><g id="k40_1" class="d"><use href="#L" x="84"/></g><g id="k40_2" class="d"><use href="#L" x="136"/></g><g id="k40_3" class="d"><use href="#L" x="188"/></g><g id="k40_4" class="d"><use href="#L" x="240"/></g><g id="k40_5" class="d"><use href="#L" x="292"/></g><g id="k40_6" class="d"><use href="#L" x="344"/></g><g id="k40_7" class="d"><use href="#L" x="396"/></g><g id="k40_8" class="d"><use href="#L" x="448"/></g><g id="k40_9" class="d"><use href="#L" x="500"/></g><g id="k40_10" class="d"><use href="#L" x="552"/></g><g id="k40_11" class="d"><use href="#L" x="604"/></g><g id="k40_12" class="d"><use href="#L" x="656"/></g></g>
<g id="row41" transform="translate(0,2141.5)"><text class="nl" x="21" y="4.5">41</text><text class="nr" x="718" y="4.5">41</text><use href="#gL"/><use href="#gR"/><g id="k41_1" class="d"><use href="#R" x="84"/></g><g id="k41_2" class="d"><use href="#R" x="136"/></g><g id="k41_3" class="d"><use href="#R" x="188"/></g><g id="k41_4" class="d"><use href="#R" x="240"/></g><g id="k41_5" class="d"><use href="#R" x="292"/></g><g id="k41_6" class="d"><use href="#R" x="344"/></g><g id="k41_7" class="d"><use href="#R" x="396"/></g><g id="k41_8" class="d"><use href="#R" x="448"/></g><g id="k41_9" class="d"><use href="#R" x="500"/></g><g id="k41_10" class="d"><use href="#R" x="552"/></g><g id="k41_11" class="d"><use href="#R" x="604"/></g><g id="k41_12" class="d"><use href="#R" x="656"/></g></g>
<g id="row42" transform="translate(0,2193.5)"><text class="nl" x="21" y="4.5">42</text><text class="nr" x="718" y="4.5">42</text><use href="#gL"/><use href="#gR"/><g id="k42_1" class="d"><use href="#L" x="84"/></g><g id="k42_2" class="d"><use href="#L" x="136"/></g><g id="k42_3" class="d"><use href="#L" x="188"/></g><g id="k42_4" class="d"><use href="#L" x="240"/></g><g id="k42_5" class="d"><use href="#L" x="292"/></g><g id="k42_6" class="d"><use href="#L" x="344"/></g><g id="k42_7" class="d"><use href="#L" x="396"/></g><g id="k42_8" class="d"><use href="#L" x="448"/></g><g id="k42_9" class="b"><use href="#L" x="500"/></g><g id="k42_10" class="d"><use href="#L" x="552"/></g><g id="k42_11" class="d"><use href="#L" x="604"/></g><g id="k42_12" class="d"><use href="#L" x="656"/></g></g>
<g id="row43" transform="translate(0,2245.5)"><text class="nl" x="21" y="4.5">43</text><text class="nr" x="718" y="4.5">43</text><use href="#gL"/><use href="#gR"/><g id="k43_1" class="d"><use href="#R" x="84"/></g><g id="k43_2" class="d"><use href="#R" x="136"/></g><g id="k43_3" class="d"><use href="#R" x="188"/></g><g id="k43_4" class="d"><use href="#R" x="240"/></g><g id="k43_5" class="b"><use href="#R" x="292"/></g><g id="k43_6" class="d"><use href="#R" x="344"/></g><g id="k43_7" class="b"><use href="#R" x="396"/></g><g id="k43_8" class="d"><use href="#R" x="448"/></g><g id="k43_9" class="b"><use href="#R" x="500"/></g><g id="k43_10" class="b"><use href="#R" x="552"/></g><g id="k43_11" class="d"><use href="#R" x="604"/></g><g id="k43_12" class="d"><use href="#R" x="656"/></g></g>
<g id="row44" transform="translate(0,2297.5)"><text class="nl" x="21" y="4.5">44</text><text class="nr" x="718" y="4.5">44</text><use href="#gL"/><use href="#gR"/><g id="k44_1" class="d"><use href="#L" x="84"/></g><g id="k44_2" class="d"><use href="#L" x="136"/></g><g id="k44_3" class="d"><use href="#L" x="188"/></g><g id="k44_4" class="d"><use href="#L" x="240"/></g><g id="k44_5" class="d"><use href="#L" x="292"/></g><g id="k44_6" class="b"><use href="#L" x="344"/></g><g id="k44_7" class="b"><use href="#L" x="396"/></g><g id="k44_8" class="b"><use href="#L" x="448"/></g><g id="k44_9" class="b"><use href="#L" x="500"/></g><g id="k44_10" class="b"><use href="#L" x="552"/></g><g id="k44_11" class="d"><use href="#L" x="604"/></g><g id="k44_12" class="d"><use href="#L" x="656"/></g></g>
<g id="row45" transform="translate(0,2349.5)"><text class="nl" x="21" y="4.5">45</text><text class="nr" x="718" y="4.5">45</text><use href="#gL"/><use href="#gR"/><g id="k45_1" class="d"><use href="#R" x="84"/></g><g id="k45_2" class="b"><use href="#R" x="136"/></g><g id="k45_3" class="d"><use href="#R" x="188"/></g><g id="k45_4" class="b"><use href="#R" x="240"/></g><g id="k45_5" class="b"><use href="#R" x="292"/></g><g id="k45_6" class="b"><use href="#R" x="344"/></g><g id="k45_7" class="b"><use href="#R" x="396"/></g><g id="k45_8" class="b"><use href="#R" x="448"/></g><g id="k45_9" class="b"><use href="#R" x="500"/></g><g id="k45_10" class="d"><use href="#R" x="552"/></g><g id="k45_11" class="d"><use href="#R" x="604"/></g><g id="k45_12" class="d"><use href="#R" x="656"/></g></g>
<g id="row46" transform="translate(0,2401.5)"><text class="nl" x="21" y="4.5">46</text><text class="nr" x="718" y="4.5">46</text><use href="#gL"/><use href="#gR"/><g id="k46_1" class="d"><use href="#L" x="84"/></g><g id="k46_2" class="b"><use href="#L" x="136"/></g><g id="k46_3" class="b"><use href="#L" x="188"/></g><g id="k46_4" class="b"><use href="#L" x="240"/></g><g id="k46_5" class="b"><use href="#L" x="292"/></g><g id="k46_6" class="b"><use href="#L" x="344"/></g><g id="k46_7" class="b"><use href="#L" x="396"/></g><g id="k46_8" class="d"><use href="#L" x="448"/></g><g id="k46_9" class="d"><use href="#L" x="500"/></g><g id="k46_10" class="d"><use href="#L" x="552"/></g><g id="k46_11" class="d"><use href="#L" x="604"/></g><g id="k46_12" class="d"><use href="#L" x="656"/></g></g>
<g id="row47" transform="translate(0,2453.5)"><text class="nl" x="21" y="4.5">47</text><text class="nr" x="718" y="4.5">47</text><use href="#gL"/><use href="#gR"/><g id="k47_1" class="d"><use href="#R" x="84"/></g><g id="k47_2" class="b"><use href="#R" x="136"/></g><g id="k47_3" class="b"><use href="#R" x="188"/></g><g id="k47_4" class="b"><use href="#R" x="240"/></g><g id="k47_5" class="b"><use href="#R" x="292"/></g><g id="k47_6" class="b"><use href="#R" x="344"/></g><g id="k47_7" class="d"><use href="#R" x="396"/></g><g id="k47_8" class="d"><use href="#R" x="448"/></g><g id="k47_9" class="d"><use href="#R" x="500"/></g><g id="k47_10" class="d"><use href="#R" x="552"/></g><g id="k47_11" class="d"><use href="#R" x="604"/></g><g id="k47_12" class="d"><use href="#R" x="656"/></g></g>
<g id="row48" transform="translate(0,2505.5)"><text class="nl" x="21" y="4.5">48</text><text class="nr" x="718" y="4.5">48</text><use href="#gL"/><use href="#gR"/><g id="k48_1" class="d"><use href="#L" x="84"/></g><g id="k48_2" class="d"><use href="#L" x="136"/></g><g id="k48_3" class="b"><use href="#L" x="188"/></g><g id="k48_4" class="b"><use href="#L" x="240"/></g><g id="k48_5" class="b"><use href="#L" x="292"/></g><g id="k48_6" class="b"><use href="#L" x="344"/></g><g id="k48_7" class="d"><use href="#L" x="396"/></g><g id="k48_8" class="d"><use href="#L" x="448"/></g><g id="k48_9" class="d"><use href="#L" x="500"/></g><g id="k48_10" class="d"><use href="#L" x="552"/></g><g id="k48_11" class="d"><use href="#L" x="604"/></g><g id="k48_12" class="d"><use href="#L" x="656"/></g></g>
<g id="row49" transform="translate(0,2557.5)"><text class="nl" x="21" y="4.5">49</text><text class="nr" x="718" y="4.5">49</text><use href="#gL"/><use href="#gR"/><g id="k49_1" class="d"><use href="#R" x="84"/></g><g id="k49_2" class="d"><use href="#R" x="136"/></g><g id="k49_3" class="d"><use href="#R" x="188"/></g><g id="k49_4" class="b"><use href="#R" x="240"/></g><g id="k49_5" class="b"><use href="#R" x="292"/></g><g id="k49_6" class="d"><use href="#R" x="344"/></g><g id="k49_7" class="d"><use href="#R" x="396"/></g><g id="k49_8" class="d"><use href="#R" x="448"/></g><g id="k49_9" class="d"><use href="#R" x="500"/></g><g id="k49_10" class="d"><use href="#R" x="552"/></g><g id="k49_11" class="d"><use href="#R" x="604"/></g><g id="k49_12" class="d"><use href="#R" x="656"/></g></g>
<g id="row50" transform="translate(0,2609.5)"><text class="nl" x="21" y="4.5">50</text><text class="nr" x="718" y="4.5">50</text><use href="#gL"/><use href="#gR"/><g id="k50_1" class="d"><use href="#L" x="84"/></g><g id="k50_2" class="d"><use href="#L" x="136"/></g><g id="k50_3" class="d"><use href="#L" x="188"/></g><g id="k50_4" class="b"><use href="#L" x="240"/></g><g id="k50_5" class="b"><use href="#L" x="292"/></g><g id="k50_6" class="d"><use href="#L" x="344"/></g><g id="k50_7" class="b"><use href="#L" x="396"/></g><g id="k50_8" class="d"><use href="#L" x="448"/></g><g id="k50_9" class="d"><use href="#L" x="500"/></g><g id="k50_10" class="d"><use href="#L" x="552"/></g><g id="k50_11" class="d"><use href="#L" x="604"/></g><g id="k50_12" class="d"><use href="#L" x="656"/></g></g>
<g id="row51" transform="translate(0,2661.5)"><text class="nl" x="21" y="4.5">51</text><text class="nr" x="718" y="4.5">51</text><use href="#gL"/><use href="#gR"/><g id="k51_1" class="d"><use href="#R" x="84"/></g><g id="k51_2" class="d"><use href="#R" x="136"/></g><g id="k51_3" class="d"><use href="#R" x="188"/></g><g id="k51_4" class="d"><use href="#R" x="240"/></g><g id="k51_5" class="b"><use href="#R" x="292"/></g><g id="k51_6" class="b"><use href="#R" x="344"/></g><g id="k51_7" class="d"><use href="#R" x="396"/></g><g id="k51_8" class="d"><use href="#R" x="448"/></g><g id="k51_9" class="d"><use href="#R" x="500"/></g><g id="k51_10" class="d"><use href="#R" x="552"/></g><g id="k51_11" class="d"><use href="#R" x="604"/></g><g id="k51_12" class="d"><use href="#R" x="656"/></g></g>
<g id="row52" transform="translate(0,2713.5)"><text class="nl" x="21" y="4.5">52</text><text class="nr" x="718" y="4.5">52</text><use href="#gL"/><use href="#gR"/><g id="k52_1" class="d"><use href="#L" x="84"/></g><g id="k52_2" class="d"><use href="#L" x="136"/></g><g id="k52_3" class="d"><use href="#L" x="188"/></g><g id="k52_4" class="d"><use href="#L" x="240"/></g><g id="k52_5" class="d"><use href="#L" x="292"/></g><g id="k52_6" class="d"><use href="#L" x="344"/></g><g id="k52_7" class="d"><use href="#L" x="396"/></g><g id="k52_8" class="d"><use href="#L" x="448"/></g><g id="k52_9" class="d"><use href="#L" x="500"/></g><g id="k52_10" class="d"><use href="#L" x="552"/></g><g id="k52_11" class="d"><use href="#L" x="604"/></g><g id="k52_12" class="d"><use href="#L" x="656"/></g></g>
<g id="row53" transform="translate(0,2765.5)"><text class="nl" x="21" y="4.5">53</text><text class="nr" x="718" y="4.5">53</text><use href="#gL"/><use href="#gR"/><g id="k53_1" class="d"><use href="#R" x="84"/></g><g id="k53_2" class="d"><use href="#R" x="136"/></g><g id="k53_3" class="d"><use href="#R" x="188"/></g><g id="k53_4" class="d"><use href="#R" x="240"/></g><g id="k53_5" class="d"><use href="#R" x="292"/></g><g id="k53_6" class="d"><use href="#R" x="344"/></g><g id="k53_7" class="d"><use href="#R" x="396"/></g><g id="k53_8" class="d"><use href="#R" x="448"/></g><g id="k53_9" class="d"><use href="#R" x="500"/></g><g id="k53_10" class="d"><use href="#R" x="552"/></g><g id="k53_11" class="d"><use href="#R" x="604"/></g><g id="k53_12" class="d"><use href="#R" x="656"/></g></g>
<g id="row54" transform="translate(0,2817.5)"><text class="nl" x="21" y="4.5">54</text><text class="nr" x="718" y="4.5">54</text><use href="#gL"/><use href="#gR"/><g id="k54_1" class="d"><use href="#L" x="84"/></g><g id="k54_2" class="d"><use href="#L" x="136"/></g><g id="k54_3" class="d"><use href="#L" x="188"/></g><g id="k54_4" class="d"><use href="#L" x="240"/></g><g id="k54_5" class="d"><use href="#L" x="292"/></g><g id="k54_6" class="d"><use href="#L" x="344"/></g><g id="k54_7" class="d"><use href="#L" x="396"/></g><g id="k54_8" class="d"><use href="#L" x="448"/></g><g id="k54_9" class="d"><use href="#L" x="500"/></g><g id="k54_10" class="d"><use href="#L" x="552"/></g><g id="k54_11" class="d"><use href="#L" x="604"/></g><g id="k54_12" class="d"><use href="#L" x="656"/></g></g>
<g id="row55" transform="translate(0,2869.5)"><text class="nl" x="21" y="4.5">55</text><text class="nr" x="718" y="4.5">55</text><use href="#gL"/><use href="#gR"/><g id="k55_1" class="d"><use href="#R" x="84"/></g><g id="k55_2" class="d"><use href="#R" x="136"/></g><g id="k55_3" class="d"><use href="#R" x="188"/></g><g id="k55_4" class="d"><use href="#R" x="240"/></g><g id="k55_5" class="d"><use href="#R" x="292"/></g><g id="k55_6" class="d"><use href="#R" x="344"/></g><g id="k55_7" class="d"><use href="#R" x="396"/></g><g id="k55_8" class="d"><use href="#R" x="448"/></g><g id="k55_9" class="d"><use href="#R" x="500"/></g><g id="k55_10" class="d"><use href="#R" x="552"/></g><g id="k55_11" class="d"><use href="#R" x="604"/></g><g id="k55_12" class="d"><use href="#R" x="656"/></g></g>
<g id="row56" transform="translate(0,2921.5)"><text class="nl" x="21" y="4.5">56</text><text class="nr" x="718" y="4.5">56</text><use href="#gL"/><use href="#gR"/><g id="k56_1" class="d"><use href="#L" x="84"/></g><g id="k56_2" class="d"><use href="#L" x="136"/></g><g id="k56_3" class="d"><use href="#L" x="188"/></g><g id="k56_4" class="b"><use href="#L" x="240"/></g><g id="k56_5" class="b"><use href="#L" x="292"/></g><g id="k56_6" class="d"><use href="#L" x="344"/></g><g id="k56_7" class="b"><use href="#L" x="396"/></g><g id="k56_8" class="d"><use href="#L" x="448"/></g><g id="k56_9" class="d"><use href="#L" x="500"/></g><g id="k56_10" class="d"><use href="#L" x="552"/></g><g id="k56_11" class="d"><use href="#L" x="604"/></g><g id="k56_12" class="d"><use href="#L" x="656"/></g></g>
<g id="row57" transform="translate(0,2973.5)"><text class="nl" x="21" y="4.5">57</text><text class="nr" x="718" y="4.5">57</text><use href="#gL"/><use href="#gR"/><g id="k57_1" class="d"><use href="#R" x="84"/></g><g id="k57_2" class="d"><use href="#R" x="136"/></g><g id="k57_3" class="d"><use href="#R" x="188"/></g><g id="k57_4" class="b"><use href="#R" x="240"/></g><g id="k57_5" class="b"><use href="#R" x="292"/></g><g id="k57_6" class="b"><use href="#R" x="344"/></g><g id="k57_7" class="d"><use href="#R" x="396"/></g><g id="k57_8" class="d"><use href="#R" x="448"/></g><g id="k57_9" class="d"><use href="#R" x="500"/></g><g id="k57_10" class="d"><use href="#R" x="552"/></g><g id="k57_11" class="d"><use href="#R" x="604"/></g><g id="k57_12" class="d"><use href="#R" x="656"/></g></g>
<g id="row58" transform="translate(0,3025.5)"><text class="nl" x="21" y="4.5">58</text><text class="nr" x="718" y="4.5">58</text><use href="#gL"/><use href="#gR"/><g id="k58_1" class="d"><use href="#L" x="84"/></g><g id="k58_2" class="b"><use href="#L" x="136"/></g><g id="k58_3" class="d"><use href="#L" x="188"/></g><g id="k58_4" class="b"><use href="#L" x="240"/></g><g id="k58_5" class="b"><use href="#L" x="292"/></g><g id="k58_6" class="b"><use href="#L" x="344"/></g><g id="k58_7" class="b"><use href="#L" x="396"/></g><g id="k58_8" class="b"><use href="#L" x="448"/></g><g id="k58_9" class="d"><use href="#L" x="500"/></g><g id="k58_10" class="d"><use href="#L" x="552"/></g><g id="k58_11" class="d"><use href="#L" x="604"/></g><g id="k58_12" class="d"><use href="#L" x="656"/></g></g>
<g id="row59" transform="translate(0,3077.5)"><text class="nl" x="21" y="4.5">59</text><text class="nr" x="718" y="4.5">59</text><use href="#gL"/><use href="#gR"/><g id="k59_1" class="d"><use href="#R" x="84"/></g><g id="k59_2" class="b"><use href="#R" x="136"/></g><g id="k59_3" class="b"><use href="#R" x="188"/></g><g id="k59_4" class="b"><use href="#R" x="240"/></g><g id="k59_5" class="b"><use href="#R" x="292"/></g><g id="k59_6" class="b"><use href="#R" x="344"/></g><g id="k59_7" class="b"><use href="#R" x="396"/></g><g id="k59_8" class="b"><use href="#R" x="448"/></g><g id="k59_9" class="b"><use href="#R" x="500"/></g><g id="k59_10" class="d"><use href="#R" x="552"/></g><g id="k59_11" class="d"><use href="#R" x="604"/></g><g id="k59_12" class="d"><use href="#R" x="656"/></g></g>
<g id="row60" transform="translate(0,3129.5)"><text class="nl" x="21" y="4.5">60</text><text class="nr" x="718" y="4.5">60</text><use href="#gL"/><use href="#gR"/><g id="k60_1" class="d"><use href="#L" x="84"/></g><g id="k60_2" class="d"><use href="#L" x="136"/></g><g id="k60_3" class="b"><use href="#L" x="188"/></g><g id="k60_4" class="b"><use href="#L" x="240"/></g><g id="k60_5" class="b"><use href="#L" x="292"/></g><g id="k60_6" class="b"><use href="#L" x="344"/></g><g id="k60_7" class="b"><use href="#L" x="396"/></g><g id="k60_8" class="d"><use href="#L" x="448"/></g><g id="k60_9" class="d"><use href="#L" x="500"/></g><g id="k60_10" class="d"><use href="#L" x="552"/></g><g id="k60_11" class="d"><use href="#L" x="604"/></g><g id="k60_12" class="d"><use href="#L" x="656"/></g></g>
<g id="row61" transform="translate(0,3181.5)"><text class="nl" x="21" y="4.5">61</text><text class="nr" x="718" y="4.5">61</text><use href="#gL"/><use href="#gR"/><g id="k61_1" class="d"><use href="#R" x="84"/></g><g id="k61_2" class="d"><use href="#R" x="136"/></g><g id="k61_3" class="b"><use href="#R" x="188"/></g><g id="k61_4" class="b"><use href="#R" x="240"/></g><g id="k61_5" class="b"><use href="#R" x="292"/></g><g id="k61_6" class="b"><use href="#R" x="344"/></g><g id="k61_7" class="d"><use href="#R" x="396"/></g><g id="k61_8" class="d"><use href="#R" x="448"/></g><g id="k61_9" class="d"><use href="#R" x="500"/></g><g id="k61_10" class="d"><use href="#R" x="552"/></g><g id="k61_11" class="d"><use href="#R" x="604"/></g><g id="k61_12" class="d"><use href="#R" x="656"/></g></g>
<g id="row62" transform="translate(0,3233.5)"><text class="nl" x="21" y="4.5">62</text><text class="nr" x="718" y="4.5">62</text><use href="#gL"/><use href="#gR"/><g id="k62_1" class="d"><use href="#L" x="84"/></g><g id="k62_2" class="b"><use href="#L" x="136"/></g><g id="k62_3" class="b"><use href="#L" x="188"/></g><g id="k62_4" class="b"><use href="#L" x="240"/></g><g id="k62_5" class="b"><use href="#L" x="292"/></g><g id="k62_6" class="b"><use href="#L" x="344"/></g><g id="k62_7" class="d"><use href="#L" x="396"/></g><g id="k62_8" class="d"><use href="#L" x="448"/></g><g id="k62_9" class="d"><use href="#L" x="500"/></g><g id="k62_10" class="d"><use href="#L" x="552"/></g><g id="k62_11" class="d"><use href="#L" x="604"/></g><g id="k62_12" class="d"><use href="#L" x="656"/></g></g>
<g id="row63" transform="translate(0,3285.5)"><text class="nl" x="21" y="4.5">63</text><text class="nr" x="718" y="4.5">63</text><use href="#gL"/><use href="#gR"/><g id="k63_1" class="d"><use href="#R" x="84"/></g><g id="k63_2" class="b"><use href="#R" x="136"/></g><g id="k63_3" class="b"><use href="#R" x="188"/></g><g id="k63_4" class="b"><use href="#R" x="240"/></g><g id="k63_5" class="b"><use href="#R" x="292"/></g><g id="k63_6" class="b"><use href="#R" x="344"/></g><g id="k63_7" class="d"><use href="#R" x="396"/></g><g id="k63_8" class="d"><use href="#R" x="448"/></g><g id="k63_9" class="d"><use href="#R" x="500"/></g><g id="k63_10" class="d"><use href="#R" x="552"/></g><g id="k63_11" class="d"><use href="#R" x="604"/></g><g id="k63_12" class="d"><use href="#R" x="656"/></g></g>
<g id="row64" transform="translate(0,3337.5)"><text class="nl" x="21" y="4.5">64</text><text class="nr" x="718" y="4.5">64</text><use href="#gL"/><use href="#gR"/><g id="k64_1" class="d"><use href="#L" x="84"/></g><g id="k64_2" class="d"><use href="#L" x="136"/></g><g id="k64_3" class="b"><use href="#L" x="188"/></g><g id="k64_4" class="b"><use href="#L" x="240"/></g><g id="k64_5" class="b"><use href="#L" x="292"/></g><g id="k64_6" class="d"><use href="#L" x="344"/></g><g id="k64_7" class="d"><use href="#L" x="396"/></g><g id="k64_8" class="d"><use href="#L" x="448"/></g><g id="k64_9" class="d"><use href="#L" x="500"/></g><g id="k64_10" class="d"><use href="#L" x="552"/></g><g id="k64_11" class="d"><use href="#L" x="604"/></g><g id="k64_12" class="d"><use href="#L" x="656"/></g></g>
<g id="row65" transform="translate(0,3389.5)"><text class="nl" x="21" y="4.5">65</text><text class="nr" x="718" y="4.5">65</text><use href="#gL"/><use href="#gR"/><g id="k65_1" class="d"><use href="#R" x="84"/></g><g id="k65_2" class="d"><use href="#R" x="136"/></g><g id="k65_3" class="b"><use href="#R" x="188"/></g><g id="k65_4" class="b"><use href="#R" x="240"/></g><g id="k65_5" class="d"><use href="#R" x="292"/></g><g id="k65_6" class="d"><use href="#R" x="344"/></g><g id="k65_7" class="d"><use href="#R" x="396"/></g><g id="k65_8" class="d"><use href="#R" x="448"/></g><g id="k65_9" class="d"><use href="#R" x="500"/></g><g id="k65_10" class="d"><use href="#R" x="552"/></g><g id="k65_11" class="d"><use href="#R" x="604"/></g><g id="k65_12" class="d"><use href="#R" x="656"/></g></g>
<g id="row66" transform="translate(0,3441.5)"><text class="nl" x="21" y="4.5">66</text><text class="nr" x="718" y="4.5">66</text><use href="#gL"/><use href="#gR"/><g id="k66_1" class="d"><use href="#L" x="84"/></g><g id="k66_2" class="d"><use href="#L" x="136"/></g><g id="k66_3" class="b"><use href="#L" x="188"/></g><g id="k66_4" class="d"><use href="#L" x="240"/></g><g id="k66_5" class="d"><use href="#L" x="292"/></g><g id="k66_6" class="d"><use href="#L" x="344"/></g><g id="k66_7" class="d"><use href="#L" x="396"/></g><g id="k66_8" class="d"><use href="#L" x="448"/></g><g id="k66_9" class="d"><use href="#L" x="500"/></g><g id="k66_10" class="d"><use href="#L" x="552"/></g><g id="k66_11" class="d"><use href="#L" x="604"/></g><g id="k66_12" class="d"><use href="#L" x="656"/></g></g>
<g id="row67" transform="translate(0,3493.5)"><text class="nl" x="21" y="4.5">67</text><text class="nr" x="718" y="4.5">67</text><use href="#gL"/><text class="tg" x="710" y="3.5" text-anchor="end">B</text><g id="k67_1" class="d"><use href="#R" x="84"/></g><g id="k67_2" class="d"><use href="#R" x="136"/></g><g id="k67_3" class="d"><use href="#R" x="188"/></g><g id="k67_4" class="b"><use href="#R" x="240"/></g><g id="k67_5" class="d"><use href="#R" x="292"/></g><g id="k67_6" class="d"><use href="#R" x="344"/></g><g id="k67_7" class="d"><use href="#R" x="396"/></g><g id="k67_8" class="d"><use href="#R" x="448"/></g><g id="k67_9" class="d"><use href="#R" x="500"/></g><g id="k67_10" class="d"><use href="#R" x="552"/></g><g id="k67_11" class="d"><use href="#R" x="604"/></g><g id="k67_12" class="d"><use href="#R" x="656"/></g></g>
<g id="row68" transform="translate(0,3545.5)"><text class="nl" x="21" y="4.5">68</text><text class="nr" x="718" y="4.5">68</text><use href="#gL"/><use href="#gR"/><g id="k68_1" class="d"><use href="#L" x="84"/></g><g id="k68_2" class="d"><use href="#L" x="136"/></g><g id="k68_3" class="d"><use href="#L" x="188"/></g><g id="k68_4" class="d"><use href="#L" x="240"/></g><g id="k68_5" class="d"><use href="#L" x="292"/></g><g id="k68_6" class="d"><use href="#L" x="344"/></g><g id="k68_7" class="d"><use href="#L" x="396"/></g><g id="k68_8" class="d"><use href="#L" x="448"/></g><g id="k68_9" class="d"><use href="#L" x="500"/></g><g id="k68_10" class="d"><use href="#L" x="552"/></g><g id="k68_11" class="d"><use href="#L" x="604"/></g><g id="k68_12" class="d"><use href="#L" x="656"/></g></g>
<g id="row69" transform="translate(0,3597.5)"><text class="nl" x="21" y="4.5">69</text><text class="nr" x="718" y="4.5">69</text><use href="#gL"/><use href="#gR"/><g id="k69_1" class="d"><use href="#R" x="84"/></g><g id="k69_2" class="d"><use href="#R" x="136"/></g><g id="k69_3" class="d"><use href="#R" x="188"/></g><g id="k69_4" class="d"><use href="#R" x="240"/></g><g id="k69_5" class="d"><use href="#R" x="292"/></g><g id="k69_6" class="d"><use href="#R" x="344"/></g><g id="k69_7" class="d"><use href="#R" x="396"/></g><g id="k69_8" class="d"><use href="#R" x="448"/></g><g id="k69_9" class="d"><use href="#R" x="500"/></g><g id="k69_10" class="d"><use href="#R" x="552"/></g><g id="k69_11" class="d"><use href="#R" x="604"/></g><g id="k69_12" class="d"><use href="#R" x="656"/></g></g>
<g id="row70" transform="translate(0,3649.5)"><text class="nl" x="21" y="4.5">70</text><text class="nr" x="718" y="4.5">70</text><use href="#gL"/><use href="#gR"/><g id="k70_1" class="d"><use href="#L" x="84"/></g><g id="k70_2" class="d"><use href="#L" x="136"/></g><g id="k70_3" class="d"><use href="#L" x="188"/></g><g id="k70_4" class="d"><use href="#L" x="240"/></g><g id="k70_5" class="d"><use href="#L" x="292"/></g><g id="k70_6" class="d"><use href="#L" x="344"/></g><g id="k70_7" class="d"><use href="#L" x="396"/></g><g id="k70_8" class="d"><use href="#L" x="448"/></g><g id="k70_9" class="d"><use href="#L" x="500"/></g><g id="k70_10" class="d"><use href="#L" x="552"/></g><g id="k70_11" class="d"><use href="#L" x="604"/></g><g id="k70_12" class="d"><use href="#L" x="656"/></g></g>
<g id="row71" transform="translate(0,3701.5)"><text class="nl" x="21" y="4.5">71</text><text class="nr" x="718" y="4.5">71</text><use href="#gL"/><use href="#gR"/><g id="k71_1" class="d"><use href="#R" x="84"/></g><g id="k71_2" class="d"><use href="#R" x="136"/></g><g id="k71_3" class="d"><use href="#R" x="188"/></g><g id="k71_4" class="d"><use href="#R" x="240"/></g><g id="k71_5" class="d"><use href="#R" x="292"/></g><g id="k71_6" class="d"><use href="#R" x="344"/></g><g id="k71_7" class="d"><use href="#R" x="396"/></g><g id="k71_8" class="d"><use href="#R" x="448"/></g><g id="k71_9" class="d"><use href="#R" x="500"/></g><g id="k71_10" class="d"><use href="#R" x="552"/></g><g id="k71_11" class="d"><use href="#R" x="604"/></g><g id="k71_12" class="d"><use href="#R" x="656"/></g></g>
<g id="row72" transform="translate(0,3753.5)"><text class="nl" x="21" y="4.5">72</text><text class="nr" x="718" y="4.5">72</text><use href="#gL"/><use href="#gR"/><g id="k72_1" class="d"><use href="#L" x="84"/></g><g id="k72_2" class="d"><use href="#L" x="136"/></g><g id="k72_3" class="d"><use href="#L" x="188"/></g><g id="k72_4" class="d"><use href="#L" x="240"/></g><g id="k72_5" class="d"><use href="#L" x="292"/></g><g id="k72_6" class="d"><use href="#L" x="344"/></g><g id="k72_7" class="d"><use href="#L" x="396"/></g><g id="k72_8" class="d"><use href="#L" x="448"/></g><g id="k72_9" class="d"><use href="#L" x="500"/></g><g id="k72_10" class="d"><use href="#L" x="552"/></g><g id="k72_11" class="d"><use href="#L" x="604"/></g><g id="k72_12" class="d"><use href="#L" x="656"/></g></g>
<g id="row73" transform="translate(0,3805.5)"><text class="nl" x="21" y="4.5">73</text><text class="nr" x="718" y="4.5">73</text><use href="#gL"/><text class="tg" x="710" y="3.5" text-anchor="end">A</text><g id="k73_1" class="d"><use href="#R" x="84"/></g><g id="k73_2" class="d"><use href="#R" x="136"/></g><g id="k73_3" class="d"><use href="#R" x="188"/></g><g id="k73_4" class="d"><use href="#R" x="240"/></g><g id="k73_5" class="d"><use href="#R" x="292"/></g><g id="k73_6" class="d"><use href="#R" x="344"/></g><g id="k73_7" class="d"><use href="#R" x="396"/></g><g id="k73_8" class="d"><use href="#R" x="448"/></g><g id="k73_9" class="d"><use href="#R" x="500"/></g><g id="k73_10" class="d"><use href="#R" x="552"/></g><g id="k73_11" class="d"><use href="#R" x="604"/></g><g id="k73_12" class="d"><use href="#R" x="656"/></g></g>
</g>
<text class="wm" x="370" y="1965">BRACELETBOOK.COM</text>
</svg>
